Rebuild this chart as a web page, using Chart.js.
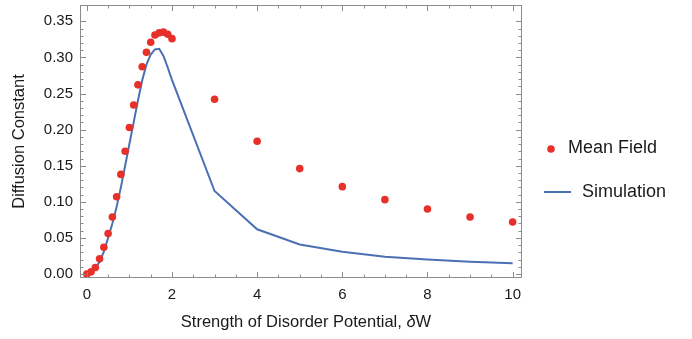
<!DOCTYPE html>
<html>
<head>
<meta charset="utf-8">
<script src="https://cdn.jsdelivr.net/npm/chart.js@4.4.0/dist/chart.umd.min.js"></script>
<style>
  html, body { margin: 0; padding: 0; background: #fff; }
  #wrap { width: 692px; height: 339px; }
</style>
</head>
<body>
<div id="wrap"><canvas id="myChart"></canvas></div>
<script>
// disorder strength values (x)
const dW = [0, 0.1, 0.2, 0.3, 0.4, 0.5, 0.6, 0.7, 0.8, 0.9, 1.0,
            1.1, 1.2, 1.3, 1.4, 1.5, 1.6, 1.7, 1.8, 1.9, 2.0,
            3, 4, 5, 6, 7, 8, 9, 10];
const meanField = [0.000, 0.003, 0.009, 0.021, 0.037, 0.056, 0.079, 0.107, 0.138, 0.170, 0.203,
                   0.234, 0.262, 0.287, 0.307, 0.321, 0.331, 0.334, 0.335, 0.332, 0.326,
                   0.242, 0.184, 0.146, 0.121, 0.103, 0.090, 0.079, 0.072];
const simulation = [0.000, 0.003, 0.008, 0.017, 0.031, 0.050, 0.070, 0.093, 0.120, 0.150, 0.180,
                    0.210, 0.240, 0.268, 0.290, 0.304, 0.311, 0.312, 0.302, 0.286, 0.269,
                    0.115, 0.062, 0.041, 0.031, 0.024, 0.020, 0.017, 0.015];
const xTicks = [0, 2, 4, 6, 8, 10];
const yTicks = [0, 0.05, 0.10, 0.15, 0.20, 0.25, 0.30, 0.35];
const seriesNames = ['Mean Field', 'Simulation'];

const red = '#e8302a';
const blue = '#4a70b3';
const frameColor = '#8c8c8c';
const fontFam = '"Liberation Sans", Arial, Helvetica, sans-serif';

// frame + inward ticks on every side (mathematica style)
const framePlugin = {
  id: 'frame',
  afterDraw(chart) {
    const c = chart.ctx, a = chart.chartArea;
    const xs = chart.scales.x, ys = chart.scales.y;
    c.save();
    c.strokeStyle = frameColor;
    c.lineWidth = 1;
    c.strokeRect(a.left + 0.5, a.top + 0.5, a.right - a.left - 1, a.bottom - a.top - 1);
    c.beginPath();
    for (let v = 0; v <= 10.001; v += 0.5) {
      const px = Math.round(xs.getPixelForValue(v)) + 0.5;
      const len = (Math.abs(v % 2) < 1e-6) ? 6 : 3.5;
      c.moveTo(px, a.bottom); c.lineTo(px, a.bottom - len);
      c.moveTo(px, a.top); c.lineTo(px, a.top + len);
    }
    for (let i = 0; i <= 35; i++) {
      const v = i / 100;
      const py = Math.round(ys.getPixelForValue(v)) + 0.5;
      const len = (i % 5 === 0) ? 6 : 3.5;
      c.moveTo(a.left, py); c.lineTo(a.left + len, py);
      c.moveTo(a.right, py); c.lineTo(a.right - len, py);
    }
    c.stroke();

    // legend
    const lx = a.right;
    c.fillStyle = red;
    c.beginPath();
    c.arc(lx + 29, 149, 3.8, 0, Math.PI * 2);
    c.fill();
    c.strokeStyle = blue;
    c.lineWidth = 2;
    c.beginPath();
    c.moveTo(lx + 22, 192); c.lineTo(lx + 49, 192);
    c.stroke();
    c.fillStyle = '#1a1a1a';
    c.font = '18px ' + fontFam;
    c.textBaseline = 'middle';
    c.textAlign = 'left';
    c.fillText(seriesNames[0], lx + 46, 148);
    c.fillText(seriesNames[1], lx + 60, 192);

    // x title with italic delta
    c.font = '16.5px ' + fontFam;
    const t1 = 'Strength of Disorder Potential, ';
    const w1 = c.measureText(t1).width;
    c.font = 'italic 16.5px ' + fontFam;
    const wd = c.measureText('δ').width;
    c.font = '16.5px ' + fontFam;
    const wW = c.measureText('W').width;
    let sx = (a.left + a.right) / 2 - (w1 + wd + wW) / 2 + 5;
    const ty = 322;
    c.fillText(t1, sx, ty);
    c.font = 'italic 16.5px ' + fontFam;
    c.fillText('δ', sx + w1, ty);
    c.font = '16.5px ' + fontFam;
    c.fillText('W', sx + w1 + wd, ty);
    c.restore();
  }
};

const ctx = document.getElementById('myChart');
new Chart(ctx, {
  type: 'scatter',
  data: {
    datasets: [{
      label: seriesNames[0],
      data: dW.map((x, i) => ({ x: x, y: meanField[i] })),
      showLine: false,
      pointRadius: 3.8,
      pointBackgroundColor: red,
      pointBorderWidth: 0,
      order: 1
    }, {
      label: seriesNames[1],
      data: dW.map((x, i) => ({ x: x, y: simulation[i] })),
      showLine: true,
      borderColor: blue,
      borderWidth: 2,
      pointRadius: 0,
      tension: 0,
      order: 2
    }]
  },
  options: {
    responsive: true,
    maintainAspectRatio: false,
    animation: false,
    layout: { padding: { left: 0, right: 170, top: 5, bottom: 0 } },
    plugins: { legend: { display: false }, tooltip: { enabled: false } },
    scales: {
      x: {
        type: 'linear',
        min: -0.16,
        max: 10.22,
        afterBuildTicks: s => { s.ticks = xTicks.map(v => ({ value: v })); },
        afterFit: s => { s.height = 61; s.paddingLeft = 0; s.paddingRight = 0; },
        grid: { display: false, drawTicks: false },
        border: { display: false },
        ticks: {
          color: '#1a1a1a',
          font: { family: fontFam, size: 15 },
          padding: 8,
          maxRotation: 0,
          callback: v => String(v)
        }
      },
      y: {
        type: 'linear',
        min: -0.0055,
        max: 0.3726,
        afterBuildTicks: s => { s.ticks = yTicks.map(v => ({ value: v })); },
        afterFit: s => { s.width = 80; s.paddingTop = 0; s.paddingBottom = 0; },
        grid: { display: false, drawTicks: false },
        border: { display: false },
        title: {
          display: true,
          text: 'Diffusion Constant',
          color: '#1a1a1a',
          font: { family: fontFam, size: 16.5 },
          padding: { top: 10, bottom: 0 }
        },
        ticks: {
          color: '#1a1a1a',
          font: { family: fontFam, size: 15 },
          padding: 7,
          callback: v => v.toFixed(2)
        }
      }
    }
  },
  plugins: [framePlugin]
});
</script>
</body>
</html>
